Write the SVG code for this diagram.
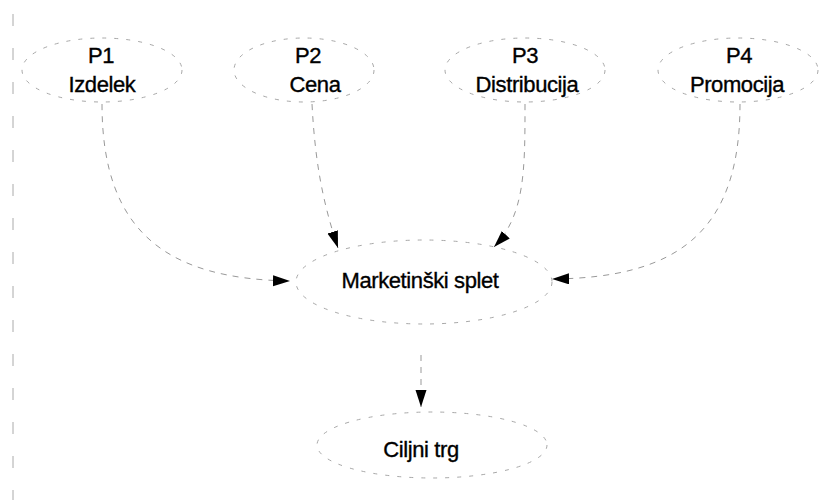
<svg xmlns="http://www.w3.org/2000/svg" width="819" height="504" viewBox="0 0 819 504">
<style>
.node ellipse{fill:none;stroke:#a8a8a8;stroke-width:1;stroke-dasharray:4 8}
.edge{fill:none;stroke:#999;stroke-width:1;stroke-dasharray:6 6}
text{font-family:"Liberation Sans",Arial,sans-serif;font-size:22px;fill:#000;stroke:#000;stroke-width:0.35;letter-spacing:-0.4px;text-anchor:middle}
</style>
<defs>
<marker id="ah" markerUnits="userSpaceOnUse" markerWidth="19" markerHeight="12" refX="17" refY="5.5" orient="auto">
<path d="M0,0 L17,5.5 L0,11 Z" fill="#000"/>
</marker>
</defs>
<rect width="819" height="504" fill="#fff"/>
<line x1="13" y1="14" x2="13" y2="500" stroke="#aaa" stroke-width="1" stroke-dasharray="12 22"/>
<g id="p1" class="node"><ellipse cx="102" cy="70" rx="80" ry="32"/><text x="101" y="63">P1</text><text x="102" y="92">Izdelek</text></g>
<g id="p2" class="node"><ellipse cx="304" cy="70" rx="70" ry="32"/><text x="308" y="63">P2</text><text x="315" y="92">Cena</text></g>
<g id="p3" class="node"><ellipse cx="525" cy="70" rx="80" ry="32"/><text x="525" y="63">P3</text><text x="527" y="92">Distribucija</text></g>
<g id="p4" class="node"><ellipse cx="738" cy="70" rx="80" ry="32"/><text x="739" y="63">P4</text><text x="737" y="92">Promocija</text></g>
<g id="mix" class="node"><ellipse cx="424" cy="282" rx="128" ry="42"/><text x="420" y="288">Marketinški splet</text></g>
<g id="trg" class="node"><ellipse cx="432" cy="445" rx="115" ry="33"/><text x="421" y="457">Ciljni trg</text></g>
<g id="connectors">
<path class="edge" d="M102,104 C102,235 170,279 290,281" marker-end="url(#ah)"/>
<path class="edge" d="M312,104 C315,160 322,200 338,248" marker-end="url(#ah)"/>
<path class="edge" d="M525,104 C525,170 525,215 494,247" marker-end="url(#ah)"/>
<path class="edge" d="M740,104 C740,230 680,278 552,279" marker-end="url(#ah)"/>
<path class="edge" d="M421,355 L421,407" marker-end="url(#ah)"/>
</g>
</svg>
